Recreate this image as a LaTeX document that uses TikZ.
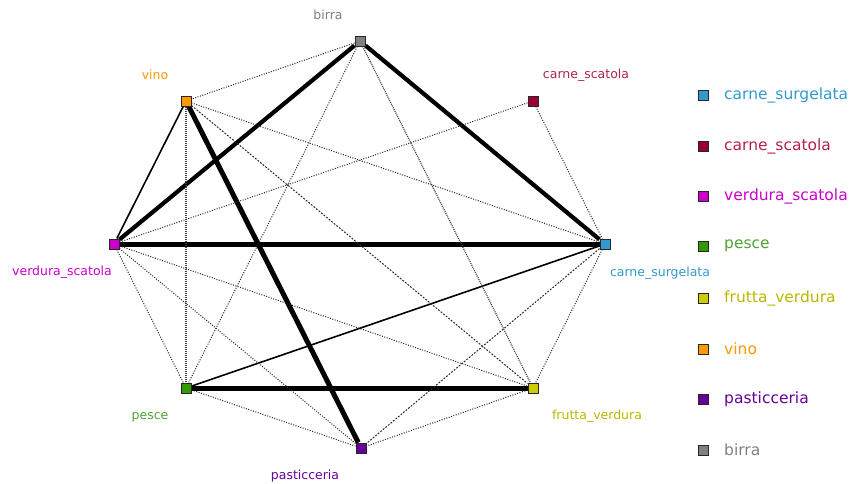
\documentclass[tikz,border=0pt]{standalone}
\usepackage{fontspec}
\setmainfont{DejaVu Sans}
\usetikzlibrary{backgrounds}
\definecolor{cSurg}{HTML}{3399CC}
\definecolor{cScat}{HTML}{990033}
\definecolor{cScatT}{HTML}{B0224C}
\definecolor{cVerd}{HTML}{CC00CC}
\definecolor{cPesce}{HTML}{339900}
\definecolor{cPesceT}{HTML}{4FA332}
\definecolor{cFrutta}{HTML}{CCCC00}
\definecolor{cVino}{HTML}{FF9900}
\definecolor{cPast}{HTML}{660099}
\definecolor{cBirra}{HTML}{808080}
\tikzset{
  sq/.style={draw=black!85, line width=1pt, minimum size=10pt, inner sep=0pt, fill=#1},
  lab/.style={text=#1, font=\fontsize{12.5}{14}\selectfont, inner sep=0pt},
  leg/.style={text=#1, font=\fontsize{15.5}{18}\selectfont, inner sep=0pt, anchor=west},
  heavy/.style={line width=4.2pt},
  heavier/.style={line width=5pt},
  mid/.style={line width=1.6pt},
  weak/.style={line width=1pt, black!85, dash pattern=on 1pt off 1.5pt},
  weakd/.style={line width=1pt, black!85, dash pattern=on 1.8pt off 1.5pt},
  dense/.style={line width=1.2pt, black!75, dash pattern=on 1pt off 1pt}
}
\begin{document}
\begin{tikzpicture}[x=1pt,y=-1pt]
\useasboundingbox (0,0) rectangle (858,483);
% graph nodes
\node[sq=cBirra]  (B)  at (360,41)  {};
\node[sq=cVino]   (V)  at (186,101) {};
\node[sq=cScat]   (CS) at (533,101) {};
\node[sq=cVerd]   (VS) at (114,244) {};
\node[sq=cSurg]   (CU) at (605,244) {};
\node[sq=cPesce]  (PE) at (186,388) {};
\node[sq=cFrutta] (FV) at (533,388) {};
\node[sq=cPast]   (P)  at (361,448) {};
% labels
\node[lab=cBirra]   (lB)  at (328,15)  {birra};
\node[lab=cVino]    (lV)  at (155,75)  {vino};
\node[lab=cScatT]   (lCS) at (586,75)  {carne\_scatola};
\node[lab=cVerd]    (lVS) at (62,272)  {verdura\_scatola};
\node[lab=cSurg]    (lCU) at (660,273) {carne\_surgelata};
\node[lab=cPesceT]  (lPE) at (150,417) {pesce};
\node[lab=cFrutta!90!black] (lFV) at (597,416) {frutta\_verdura};
\node[lab=cPast]    (lP)  at (305,476) {pasticceria};
% edges
\begin{scope}[on background layer]
\draw[heavy]   (B) -- (VS);
\draw[heavy]   (B) -- (CU);
\draw[heavier] (VS) -- (CU);
\draw[heavier] (PE) -- (FV);
\draw[heavier] (V) -- (P);
\draw[mid] (V) -- (VS);
\draw[mid] (PE) -- (CU);
\draw[weak]  (B) -- (V);
\draw[weak]  (B) -- (PE);
\draw[dense] (B) -- (FV);
\draw[dense] (V) -- (PE);
\draw[weak]  (V) -- (CU);
\draw[weakd] (V) -- (FV);
\draw[weak]  (CS) -- (VS);
\draw[weak]  (CS) -- (CU);
\draw[weak]  (VS) -- (FV);
\draw[weak]  (VS) -- (P);
\draw[weak]  (VS) -- (PE);
\draw[weak]  (CU) -- (FV);
\draw[weakd] (CU) -- (P);
\draw[weak]  (PE) -- (P);
\draw[weak]  (FV) -- (P);
\end{scope}
% legend
\node[sq=cSurg]   (k1) at (703,95)  {};
\node[sq=cScat]   (k2) at (703,146) {};
\node[sq=cVerd]   (k3) at (703,196) {};
\node[sq=cPesce]  (k4) at (703,246) {};
\node[sq=cFrutta] (k5) at (703,298) {};
\node[sq=cVino]   (k6) at (703,349) {};
\node[sq=cPast]   (k7) at (703,399) {};
\node[sq=cBirra]  (k8) at (703,450) {};
\node[leg=cSurg]   (t1) at (724,95)  {carne\_surgelata};
\node[leg=cScatT]  (t2) at (724,146) {carne\_scatola};
\node[leg=cVerd]   (t3) at (724,196) {verdura\_scatola};
\node[leg=cPesceT] (t4) at (724,246) {pesce};
\node[leg=cFrutta!90!black] (t5) at (724,298) {frutta\_verdura};
\node[leg=cVino]   (t6) at (724,349) {vino};
\node[leg=cPast]   (t7) at (724,399) {pasticceria};
\node[leg=cBirra]  (t8) at (724,450) {birra};
\end{tikzpicture}
\end{document}
